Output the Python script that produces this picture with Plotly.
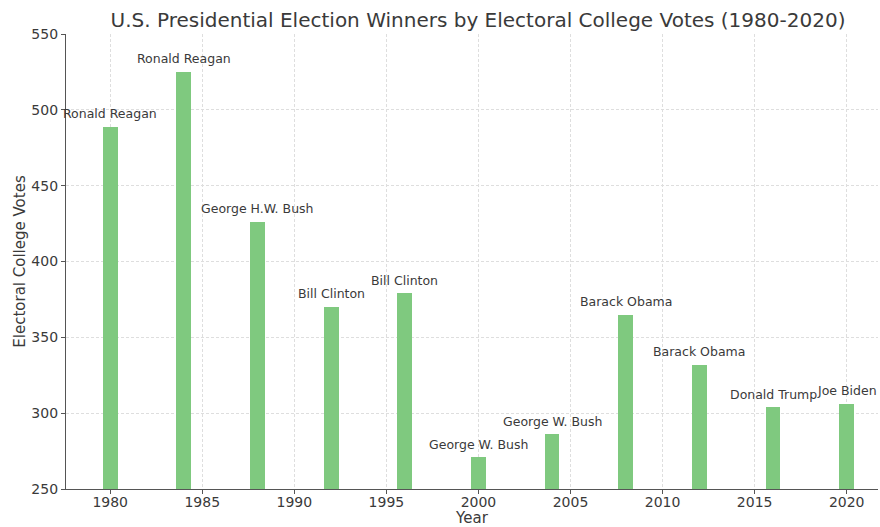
import plotly.graph_objects as go

# Election years, winners and electoral college votes
years = [1980, 1984, 1988, 1992, 1996, 2000, 2004, 2008, 2012, 2016, 2020]
winners = ["Ronald Reagan", "Ronald Reagan", "George H.W. Bush", "Bill Clinton",
           "Bill Clinton", "George W. Bush", "George W. Bush", "Barack Obama",
           "Barack Obama", "Donald Trump", "Joe Biden"]
votes = [489, 525, 426, 370, 379, 271, 286, 365, 332, 304, 306]

x_ticks = [1980, 1985, 1990, 1995, 2000, 2005, 2010, 2015, 2020]
y_ticks = [250, 300, 350, 400, 450, 500, 550]

FONT = "DejaVu Sans"
TEXT = "#3a3a3a"
AXIS = "#555555"
GRID = "#dedede"

fig = go.Figure()
fig.add_trace(go.Bar(
    x=years, y=votes, width=0.8,
    marker=dict(color="#7fc97f", line=dict(width=0)),
    hoverinfo="x+y",
))

# Winner name above each bar
for yr, name, v in zip(years, winners, votes):
    fig.add_annotation(
        x=yr, y=v + 5, xref="x", yref="y", text=name, showarrow=False,
        yanchor="bottom", xanchor="center", yshift=-3,
        font=dict(family=FONT, size=12.5, color=TEXT),
        borderpad=0,
    )

fig.update_layout(
    width=880, height=527,
    margin=dict(l=66, r=2, t=34, b=38),
    paper_bgcolor="white", plot_bgcolor="white",
    showlegend=False,
    bargap=0,
    font=dict(family=FONT, color=TEXT),
    title=dict(
        text="U.S. Presidential Election Winners by Electoral College Votes (1980-2020)",
        x=478 / 880, xref="container", xanchor="center",
        y=1 - 20 / 527, yref="container", yanchor="middle",
        font=dict(family=FONT, size=20, color=TEXT),
    ),
    xaxis=dict(
        range=[1977.6, 2021.7],
        tickmode="array", tickvals=x_ticks,
        ticks="outside", ticklen=4, tickcolor=AXIS, tickwidth=1,
        ticklabelstandoff=-4,
        tickfont=dict(family=FONT, size=14, color=TEXT),
        showline=True, linecolor=AXIS, linewidth=1.3,
        showgrid=True, gridcolor=GRID, griddash="3px,2px", gridwidth=0.8,
        zeroline=False,
        title=dict(text="Year", font=dict(family=FONT, size=15, color=TEXT), standoff=3),
        automargin=False,
    ),
    yaxis=dict(
        range=[250, 550],
        tickmode="array", tickvals=y_ticks,
        ticks="outside", ticklen=4, tickcolor=AXIS, tickwidth=1,
        tickfont=dict(family=FONT, size=14, color=TEXT),
        showline=True, linecolor=AXIS, linewidth=1.3,
        showgrid=True, gridcolor=GRID, griddash="3px,2px", gridwidth=0.8,
        zeroline=False,
        title=dict(text="Electoral College Votes", font=dict(family=FONT, size=15, color=TEXT), standoff=2),
        automargin=False,
    ),
)

fig.write_html("out.html")
